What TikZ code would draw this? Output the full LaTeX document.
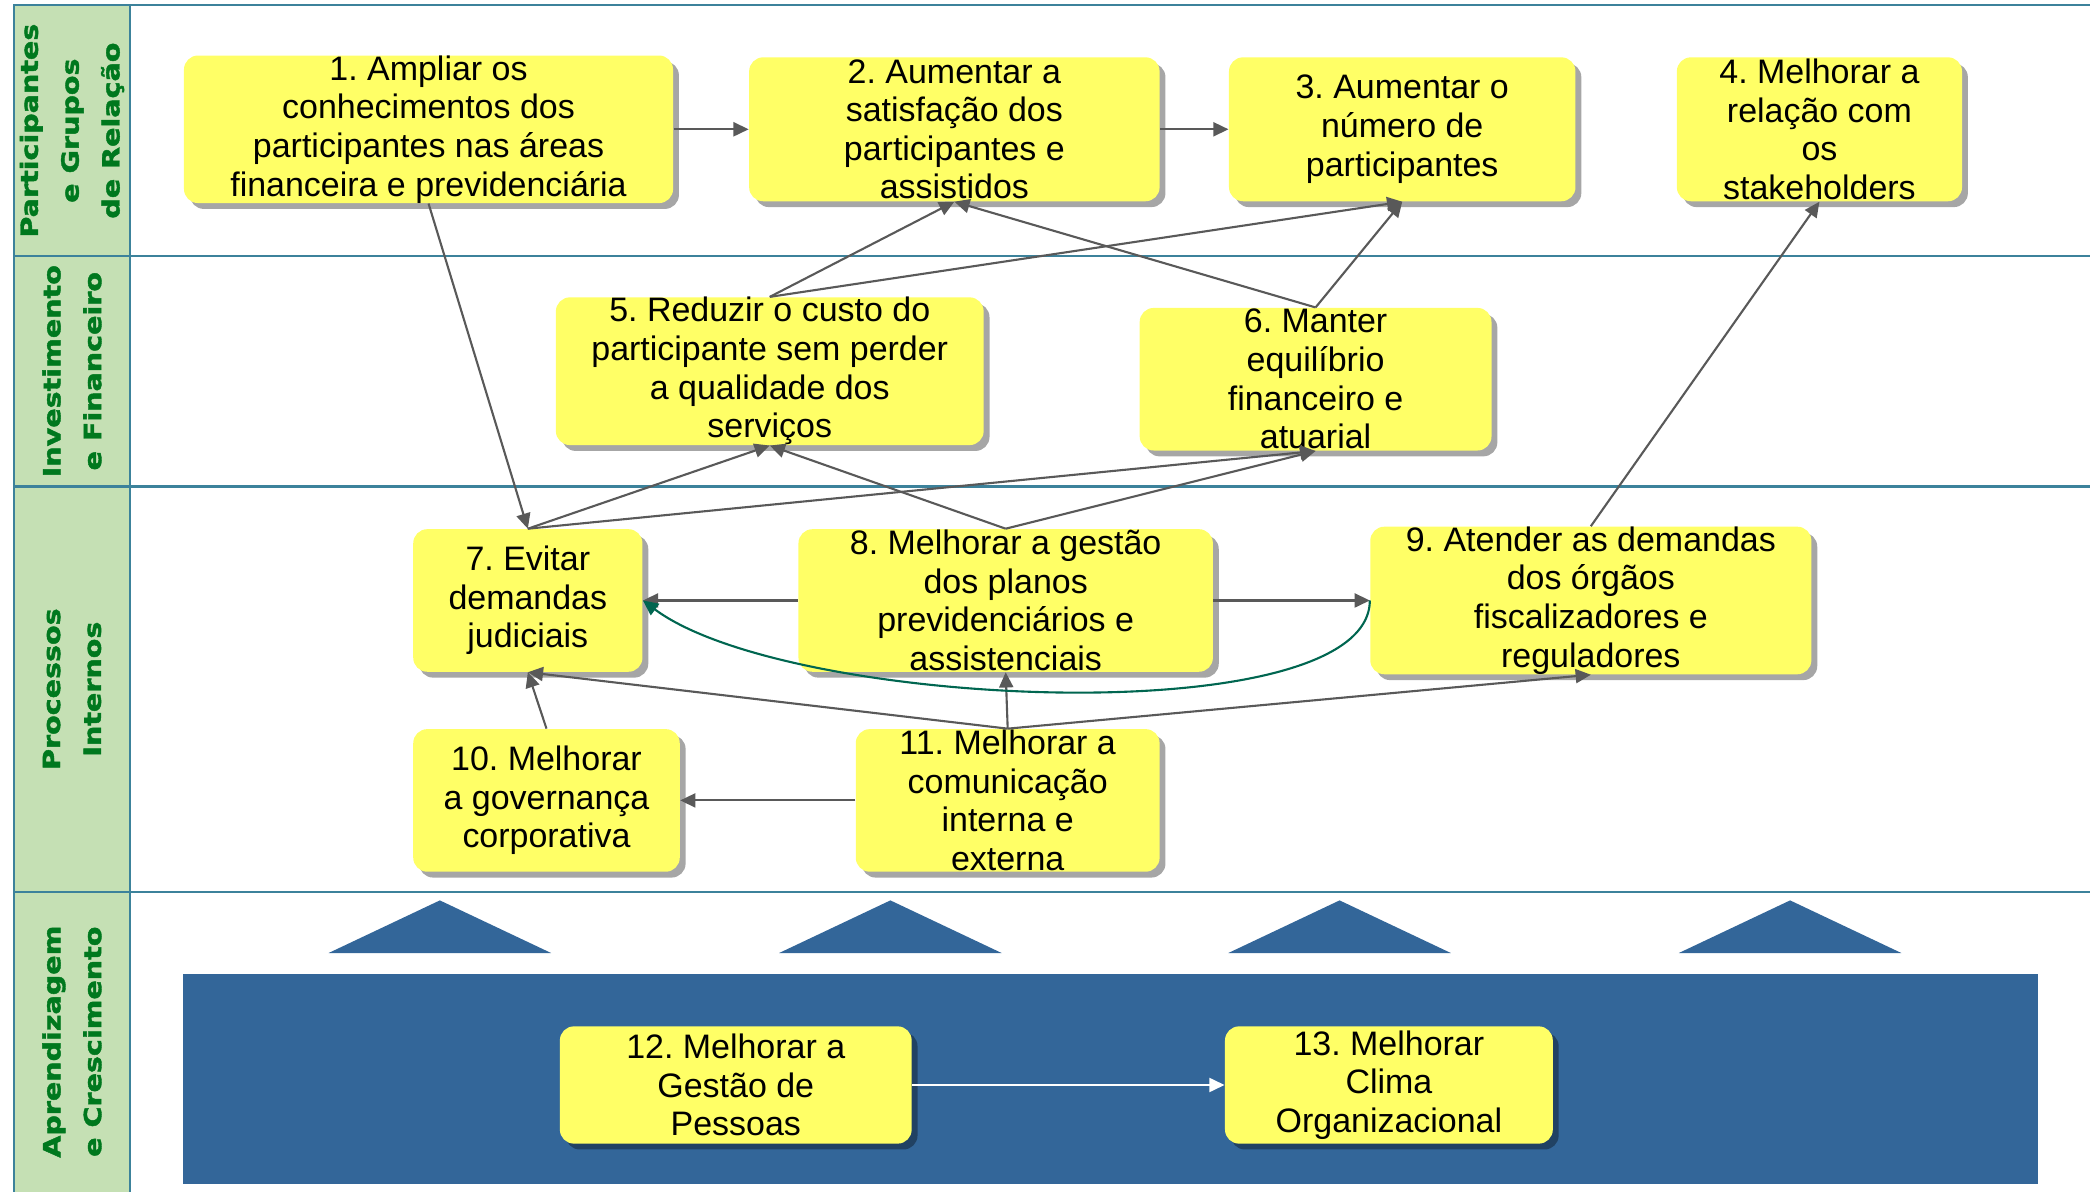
\documentclass[tikz,border=0pt]{standalone}
\usepackage{fontspec}
\setmainfont{Liberation Sans}
\newfontfamily\lanefont{DejaVu Sans}[BoldFont={DejaVu Sans Bold}, BoldFeatures={FakeBold=1.6}]
\usetikzlibrary{arrows.meta,shadows}
\definecolor{laneline}{RGB}{60,130,155}
\definecolor{lanefill}{RGB}{197,224,180}
\definecolor{lanetext}{RGB}{0,120,30}
\definecolor{boxyellow}{RGB}{255,255,102}
\definecolor{arrowgray}{RGB}{89,89,89}
\definecolor{loopgreen}{RGB}{0,102,80}
\definecolor{bandblue}{RGB}{51,102,153}
\frenchspacing
\tikzset{
  objbox/.style={fill=boxyellow, rounded corners=6pt, inner sep=0pt, align=center,
    font=\fontsize{14.5}{16.5}\selectfont,
    drop shadow={shadow xshift=2.5pt, shadow yshift=-2.5pt, fill=black, opacity=.35}},
  lanelabel/.style={rotate=90, yscale=.83, transform shape, align=center, text=lanetext,
    font=\lanefont\bfseries\fontsize{12.2}{21}\selectfont},
  flow/.style={color=arrowgray, line width=.9pt, -{Triangle[length=6.5pt,width=6pt]}}
}
\begin{document}
\begin{tikzpicture}[x=0.02cm, y=0.02cm]
	\useasboundingbox (0,0) rectangle (1568,894);
	\fill[lanefill] (10.5,0) rectangle (97.5,890);
	\draw[laneline, line width=1pt] (10.5,0) -- (10.5,890) -- (1568,890);
	\draw[laneline, line width=1pt] (97.5,0) -- (97.5,890);
	\foreach \ly in {702,529,225}
		\draw[laneline, line width=1pt] (10.5,\ly) -- (1568,\ly);
	\node[lanelabel] (l1) at (54,796) {Participantes\\e Grupos\\de Relação};
	\node[lanelabel] (l2) at (54,615.5) {Investimento\\e Financeiro};
	\node[lanelabel] (l3) at (54,377) {Processos\\Internos};
	\node[lanelabel] (l4) at (54,112.5) {Aprendizagem\\e Crescimento};
	\fill[bandblue] (137,6) rectangle (1529,163);
	\foreach \cx in {330,668,1005,1343}
		\fill[bandblue] (\cx-83.5,179) -- (\cx,218.5) -- (\cx+83.5,179) -- cycle;
	\node[objbox, minimum width=7.34cm, minimum height=2.16cm] (n1) at (321.5,797)
		{1. Ampliar os\\conhecimentos dos\\participantes nas áreas\\financeira e previdenciária};
	\node[objbox, minimum width=6.16cm, minimum height=2.16cm] (n2) at (716,797)
		{2. Aumentar a\\satisfação dos\\participantes e\\assistidos};
	\node[objbox, minimum width=5.2cm, minimum height=2.16cm] (n3) at (1052,797)
		{3. Aumentar o\\número de\\participantes};
	\node[objbox, minimum width=4.28cm, minimum height=2.16cm] (n4) at (1365,797)
		{4. Melhorar a\\relação com\\os\\stakeholders};
	\node[objbox, minimum width=6.42cm, minimum height=2.14cm] (n5) at (577.5,615.5)
		{5. Reduzir o custo do\\participante sem perder\\a qualidade dos\\serviços};
	\node[objbox, minimum width=5.28cm, minimum height=2.14cm] (n6) at (987,609.5)
		{6. Manter\\equilíbrio\\financeiro e\\atuarial};
	\node[objbox, minimum width=3.44cm, minimum height=2.14cm] (n7) at (396,443.5)
		{7. Evitar\\demandas\\judiciais};
	\node[objbox, minimum width=6.22cm, minimum height=2.14cm] (n8) at (754.5,443.5)
		{8. Melhorar a gestão\\dos planos\\previdenciários e\\assistenciais};
	\node[objbox, minimum width=6.62cm, minimum height=2.14cm] (n9) at (1193.5,443.5)
		{9. Atender as demandas\\dos órgãos\\fiscalizadores e\\reguladores};
	\node[objbox, minimum width=4cm, minimum height=2.14cm] (n10) at (410,293.5)
		{10. Melhorar\\a governança\\corporativa};
	\node[objbox, minimum width=4.56cm, minimum height=2.14cm] (n11) at (756,293.5)
		{11. Melhorar a\\comunicação\\interna e\\externa};
	\node[objbox, minimum width=5.28cm, minimum height=1.76cm] (n12) at (552,80)
		{12. Melhorar a\\Gestão de\\Pessoas};
	\node[objbox, minimum width=4.92cm, minimum height=1.76cm] (n13) at (1042,80)
		{13. Melhorar\\Clima\\Organizacional};
	\path[flow]
	(n1.east) edge (n2.west)
	(n2.east) edge (n3.west)
	(n1.south) edge (n7.north)
	(n5.north) edge (n2.south)
	(n5.north) edge (n3.south)
	(n6.north) edge (n2.south)
	(n6.north) edge (n3.south)
	(n7.north) edge (n5.south)
	(n7.north) edge (n6.south)
	(n8.north) edge (n5.south)
	(n8.north) edge (n6.south)
	(n8.west) edge (n7.east)
	(n8.east) edge (n9.west)
	(n9.north) edge (n4.south)
	(n10.north) edge (n7.south)
	(n11.north) edge (n7.south)
	(n11.north) edge (n8.south)
	(n11.north) edge (n9.south)
	(n11.west) edge (n10.east);
	\draw[flow, color=loopgreen] (n9.west) .. controls +(0,-100) and +(110,-82) .. (n7.east);
	\path[flow, color=white] (n12.east) edge (n13.west);
\end{tikzpicture}
\end{document}
